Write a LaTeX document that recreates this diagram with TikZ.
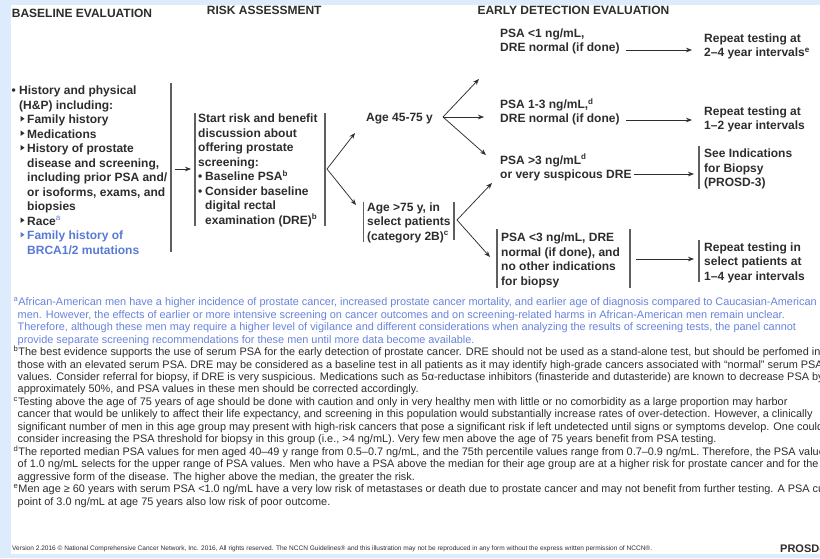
\documentclass[tikz,border=0pt]{standalone}
\usepackage{fontspec}
\setmainfont{Liberation Sans}
\usetikzlibrary{arrows.meta}
\definecolor{frameblue}{RGB}{221,236,252}
\definecolor{brcablue}{RGB}{88,122,212}
\definecolor{fnblue}{RGB}{104,132,222}
\definecolor{ink}{RGB}{45,45,45}
\definecolor{barcol}{RGB}{95,95,95}
\tikzset{
  hd/.style={inner sep=0pt, anchor=base west, font=\fontsize{12}{14}\selectfont\bfseries, text=ink},
  bt/.style={inner sep=0pt, anchor=base west, font=\fontsize{12}{14.5}\selectfont\bfseries, text=ink},
  ft/.style={inner sep=0pt, anchor=base west, font=\fontsize{10.9}{12.4}\selectfont, text=ink},
  fa/.style={ft, text=fnblue},
  vbar/.style={draw=barcol, line width=1.2pt},
  arr/.style={draw=ink, line width=0.75pt, -{Stealth[length=6pt,width=4.6pt]}},
}
\newcommand{\sa}[1]{\textsuperscript{#1}}
\begin{document}
\begin{tikzpicture}[x=1pt,y=-1pt]
\useasboundingbox (0,0) rectangle (820,558);
\clip (0,0) rectangle (820,558);
\fill[white] (0,0) rectangle (820,558);
\fill[frameblue] (0,0) rectangle (11,558);
\fill[frameblue] (0,0) rectangle (820,5);
\fill[frameblue] (0,554) rectangle (820,558);

% headers
\node[hd] (h1) at (11.7,17) {BASELINE EVALUATION};
\node[hd] (h2) at (206.7,14) {RISK ASSESSMENT};
\node[hd] (h3) at (477.3,14.5) {EARLY DETECTION EVALUATION};

% baseline evaluation column
\node[bt] (bbul) at (11.5,94.5) {•};
\node[bt] (b0) at (19,94.5) {History and physical};
\node[bt] (b1) at (19,109) {(H\&P) including:};
\node[bt] (b2) at (27,123.5) {Family history};
\node[bt] (b3) at (27,138) {Medications};
\node[bt] (b4) at (27,152.5) {History of prostate};
\node[bt] (b5) at (27,167) {disease and screening,};
\node[bt] (b6) at (27,181.5) {including prior PSA and/};
\node[bt] (b7) at (27,196) {or isoforms, exams, and};
\node[bt] (b8) at (27,210.5) {biopsies};
\node[bt] (b9) at (27,225) {Race\textsuperscript{\mdseries\color{brcablue}a}};
\node[bt, text=brcablue] (b10) at (27,239.5) {Family history of};
\node[bt, text=brcablue] (b11) at (27,254) {BRCA1/2 mutations};
\foreach \yy in {123.5,138,152.5,225}
  \fill[ink] (20.5,\yy-7.6) -- (24.5,\yy-4.8) -- (20.5,\yy-2) -- cycle;
\fill[brcablue] (20.5,239.5-7.6) -- (24.5,239.5-4.8) -- (20.5,239.5-2) -- cycle;
\draw[vbar] (171,83) -- (171,252);
\coordinate (a0s) at (175,169);
\coordinate (a0e) at (191,169);
\draw[arr] (a0s) -- (a0e);

% risk assessment box
\draw[vbar] (195,113) -- (195,226);
\draw[vbar] (325,113) -- (325,226);
\node[bt] (r0) at (198,122.5) {Start risk and benefit};
\node[bt] (r1) at (198,137) {discussion about};
\node[bt] (r2) at (198,151.5) {offering prostate};
\node[bt] (r3) at (198,166) {screening:};
\node[bt] (rb1) at (198,180.5) {•};
\node[bt] (r4) at (205,180.5) {Baseline PSA\sa{b}};
\node[bt] (rb2) at (198,195) {•};
\node[bt] (r5) at (205,195) {Consider baseline};
\node[bt] (r6) at (205,209.5) {digital rectal};
\node[bt] (r7) at (205,224) {examination (DRE)\sa{b}};
\coordinate (f1) at (327,169);
\coordinate (f1u) at (355,133);
\coordinate (f1d) at (356,205);
\draw[arr] (f1) -- (f1u);
\draw[arr] (f1) -- (f1d);

% ages
\node[bt] (age1) at (366,121) {Age 45-75 y};
\draw[vbar] (363.5,202) -- (363.5,242);
\draw[vbar] (454,202) -- (454,240);
\node[bt] (age2a) at (367,211) {Age >75 y, in};
\node[bt] (age2b) at (367,225.5) {select patients};
\node[bt] (age2c) at (367,240) {(category 2B)\sa{c}};

\coordinate (f2) at (443,117);
\coordinate (f2u) at (479,79);
\coordinate (f2m) at (484,117);
\coordinate (f2d) at (486,155);
\draw[arr] (f2) -- (f2u);
\draw[arr] (f2) -- (f2m);
\draw[arr] (f2) -- (f2d);
\coordinate (f3) at (457,220);
\coordinate (f3u) at (492,183);
\coordinate (f3d) at (490,257);
\draw[arr] (f3) -- (f3u);
\draw[arr] (f3) -- (f3d);

% early detection rows
\node[bt] (p1a) at (500,37.5) {PSA <1 ng/mL,};
\node[bt] (p1b) at (500,51.5) {DRE normal (if done)};
\node[bt] (q1a) at (704,42.5) {Repeat testing at};
\node[bt] (q1b) at (704,56.5) {2–4 year intervals\sa{e}};
\coordinate (g1s) at (626,50);
\coordinate (g1e) at (692,50);
\draw[arr] (g1s) -- (g1e);

\node[bt] (p2a) at (500,108.5) {PSA 1-3 ng/mL,\sa{d}};
\node[bt] (p2b) at (500,122.5) {DRE normal (if done)};
\node[bt] (q2a) at (704,115.5) {Repeat testing at};
\node[bt] (q2b) at (704,129.5) {1–2 year intervals};
\coordinate (g2s) at (626,120);
\coordinate (g2e) at (692,120);
\draw[arr] (g2s) -- (g2e);

\node[bt] (p3a) at (500,164) {PSA >3 ng/mL\sa{d}};
\node[bt] (p3b) at (500,178.5) {or very suspicous DRE};
\draw[vbar] (699,146) -- (699,189);
\node[bt] (q3a) at (704,157.5) {See Indications};
\node[bt] (q3b) at (704,172) {for Biopsy};
\node[bt] (q3c) at (704,186.5) {(PROSD-3)};
\coordinate (g3s) at (634,174);
\coordinate (g3e) at (694,174);
\draw[arr] (g3s) -- (g3e);

\draw[vbar] (497,229) -- (497,288);
\draw[vbar] (630,229) -- (630,288);
\node[bt] (p4a) at (501,241.5) {PSA <3 ng/mL, DRE};
\node[bt] (p4b) at (501,256) {normal (if done), and};
\node[bt] (p4c) at (501,270.5) {no other indications};
\node[bt] (p4d) at (501,285) {for biopsy};
\draw[vbar] (699,240) -- (699,282);
\node[bt] (q4a) at (704,251) {Repeat testing in};
\node[bt] (q4b) at (704,265.5) {select patients at};
\node[bt] (q4c) at (704,280) {1–4 year intervals};
\coordinate (g4s) at (636,259);
\coordinate (g4e) at (694,259);
\draw[arr] (g4s) -- (g4e);

% footnotes
\node[fa] (na1) at (13.5,305.8) {\sa{a}African-American men have a higher incidence of prostate cancer, increased prostate cancer mortality, and earlier age of diagnosis compared to Caucasian-American};
\node[fa] (na2) at (17.5,318.25) {men. However, the effects of earlier or more intensive screening on cancer outcomes and on screening-related harms in African-American men remain unclear.};
\node[fa] (na3) at (17.5,330.7) {Therefore, although these men may require a higher level of vigilance and different considerations when analyzing the results of screening tests, the panel cannot};
\node[fa] (na4) at (17.5,343.15) {provide separate screening recommendations for these men until more data become available.};
\node[ft] (nb1) at (13.5,355.6) {\sa{b}The best evidence supports the use of serum PSA for the early detection of prostate cancer. DRE should not be used as a stand-alone test, but should be perfomed in};
\node[ft] (nb2) at (17.5,368.05) {those with an elevated serum PSA. DRE may be considered as a baseline test in all patients as it may identify high-grade cancers associated with “normal” serum PSA};
\node[ft] (nb3) at (17.5,380.5) {values. Consider referral for biopsy, if DRE is very suspicious. Medications such as 5α-reductase inhibitors (finasteride and dutasteride) are known to decrease PSA by};
\node[ft] (nb4) at (17.5,392.95) {approximately 50\%, and PSA values in these men should be corrected accordingly.};
\node[ft] (nc1) at (13.5,405.4) {\sa{c}Testing above the age of 75 years of age should be done with caution and only in very healthy men with little or no comorbidity as a large proportion may harbor};
\node[ft] (nc2) at (17.5,417.85) {cancer that would be unlikely to affect their life expectancy, and screening in this population would substantially increase rates of over-detection. However, a clinically};
\node[ft] (nc3) at (17.5,430.3) {significant number of men in this age group may present with high-risk cancers that pose a significant risk if left undetected until signs or symptoms develop. One could};
\node[ft] (nc4) at (17.5,442.75) {consider increasing the PSA threshold for biopsy in this group (i.e., >4 ng/mL). Very few men above the age of 75 years benefit from PSA testing.};
\node[ft] (nd1) at (13.5,455.2) {\sa{d}The reported median PSA values for men aged 40–49 y range from 0.5–0.7 ng/mL, and the 75th percentile values range from 0.7–0.9 ng/mL. Therefore, the PSA value};
\node[ft] (nd2) at (17.5,467.65) {of 1.0 ng/mL selects for the upper range of PSA values. Men who have a PSA above the median for their age group are at a higher risk for prostate cancer and for the};
\node[ft] (nd3) at (17.5,480.1) {aggressive form of the disease. The higher above the median, the greater the risk.};
\node[ft] (ne1) at (13.5,492.55) {\sa{e}Men age ≥ 60 years with serum PSA <1.0 ng/mL have a very low risk of metastases or death due to prostate cancer and may not benefit from further testing. A PSA cut};
\node[ft] (ne2) at (17.5,505) {point of 3.0 ng/mL at age 75 years also low risk of poor outcome.};

% footer
\node[inner sep=0pt, anchor=base west, text=ink] (foot) at (12,550) {\resizebox{640pt}{!}{\fontsize{6}{7}\selectfont Version 2.2016 © National Comprehensive Cancer Network, Inc. 2016, All rights reserved. The NCCN Guidelines® and this illustration may not be reproduced in any form without the express written permission of NCCN®.}};
\node[inner sep=0pt, anchor=base west, text=ink, font=\fontsize{11}{12}\selectfont\bfseries] (pg) at (780,552) {PROSD-2};
\end{tikzpicture}
\end{document}
